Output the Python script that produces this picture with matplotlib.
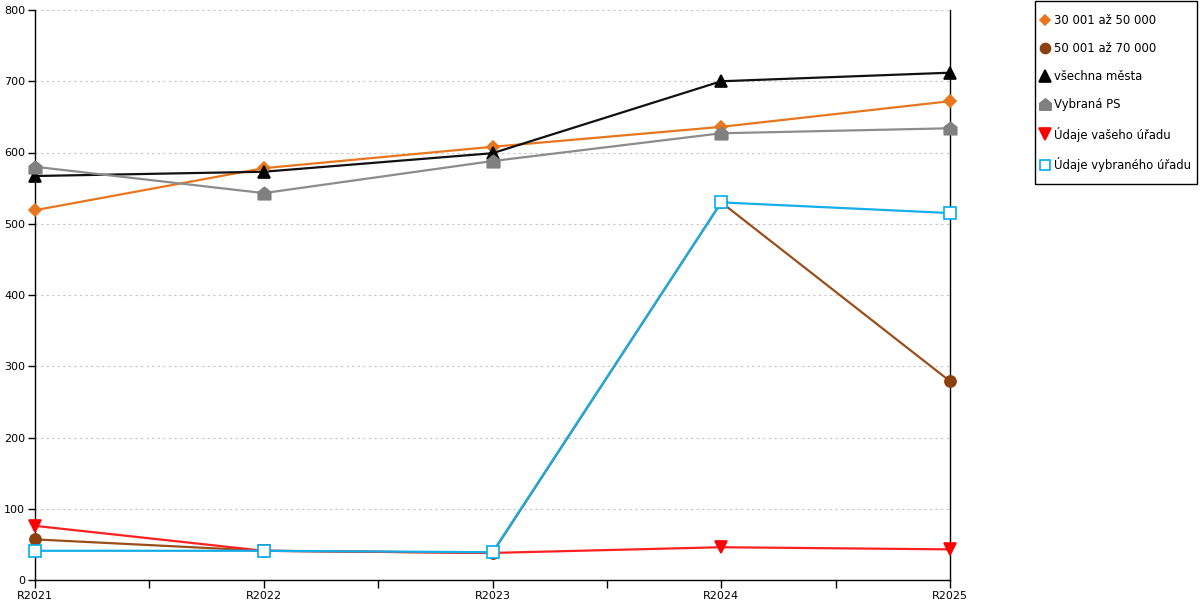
import matplotlib
matplotlib.use("Agg")
import matplotlib.pyplot as plt
import numpy as np
from matplotlib.path import Path
from matplotlib.patches import Rectangle

categories = ["R2021", "R2022", "R2023", "R2024", "R2025"]
s_30_50 = [519, 578, 608, 636, 672]
s_50_70 = [57, 41, 38, 530, 279]
s_all = [567, 573, 599, 700, 712]
s_ps = [580, 543, 588, 627, 634]
s_vas = [76, 41, 38, 46, 43]
s_vyb = [41, 41, 39, 530, 515]

names = ["30 001 až 50 000", "50 001 až 70 000", "všechna města", "Vybraná PS",
         "Údaje vašeho úřadu", "Údaje vybraného úřadu"]
series = [s_30_50, s_50_70, s_all, s_ps, s_vas, s_vyb]
line_colors = ["#E8761E", "#9A4F1A", "#111111", "#8C8C8C", "#FF2020", "#14AEE8"]
marker_face = ["#E8761E", "#8B4010", "#000000", "#808080", "#FF0000", "white"]
marker_edge = ["#E8761E", "#8B4010", "#000000", "#808080", "#FF0000", "#00AEEF"]
house = Path([(-1, -1), (1, -1), (1, 0.2), (0, 1), (-1, 0.2), (-1, -1)],
             [Path.MOVETO, Path.LINETO, Path.LINETO, Path.LINETO, Path.LINETO, Path.CLOSEPOLY])
markers = ["D", "o", "^", house, "v", "s"]
msizes = [6, 8, 9, 9, 9, 8]

fig = plt.figure(figsize=(12, 6), dpi=100)
ax = fig.add_axes([35/1200, 20/600, 915/1200, 570/600])
x = np.arange(len(categories))

handles = []
for s, n, lc, mf, me, m, ms in zip(series, names, line_colors, marker_face, marker_edge, markers, msizes):
    ax.plot(x, s, color=lc, lw=1.6, zorder=3, clip_on=False)
    ax.plot(x, s, ls="none", marker=m, ms=ms, mfc=mf, mec=me, mew=1.2, zorder=4, clip_on=False)
    h, = ax.plot([], [], ls="none", marker=m, ms=ms * 0.9, mfc=mf, mec=me, mew=1.2, label=n)
    handles.append(h)

ax.set_xlim(0, len(categories) - 1)
ax.set_ylim(0, 800)
ax.set_yticks(np.arange(0, 801, 100))
ax.set_xticks(x)
ax.set_xticklabels(categories)
ax.set_xticks(x[:-1] + 0.5, minor=True)
ax.tick_params(axis="x", which="both", direction="out", length=6, width=1, labelsize=8, pad=2)
ax.tick_params(axis="y", direction="out", length=5, width=1, labelsize=8, pad=2)
ax.yaxis.grid(True, ls=(0, (2, 3)), color="#C4C4C4", lw=0.8)
ax.set_axisbelow(True)
for sp in ["left", "bottom", "right"]:
    ax.spines[sp].set_color("black")
    ax.spines[sp].set_linewidth(1)
ax.spines["top"].set_visible(False)

# legend frame drawn separately
fig.patches.append(Rectangle((1035/1200, 1 - 184/600), 162/1200, 183/600,
                             transform=fig.transFigure, fill=False,
                             edgecolor="black", lw=1))
leg = fig.legend(handles=handles, loc="upper left", bbox_to_anchor=(1030/1200, 1 - 4/600),
                 frameon=False, fontsize=8.4,
                 handlelength=0.8, handletextpad=0.45, labelspacing=1.3,
                 borderpad=0.85, borderaxespad=0)

fig.savefig("out.png", dpi=100)
